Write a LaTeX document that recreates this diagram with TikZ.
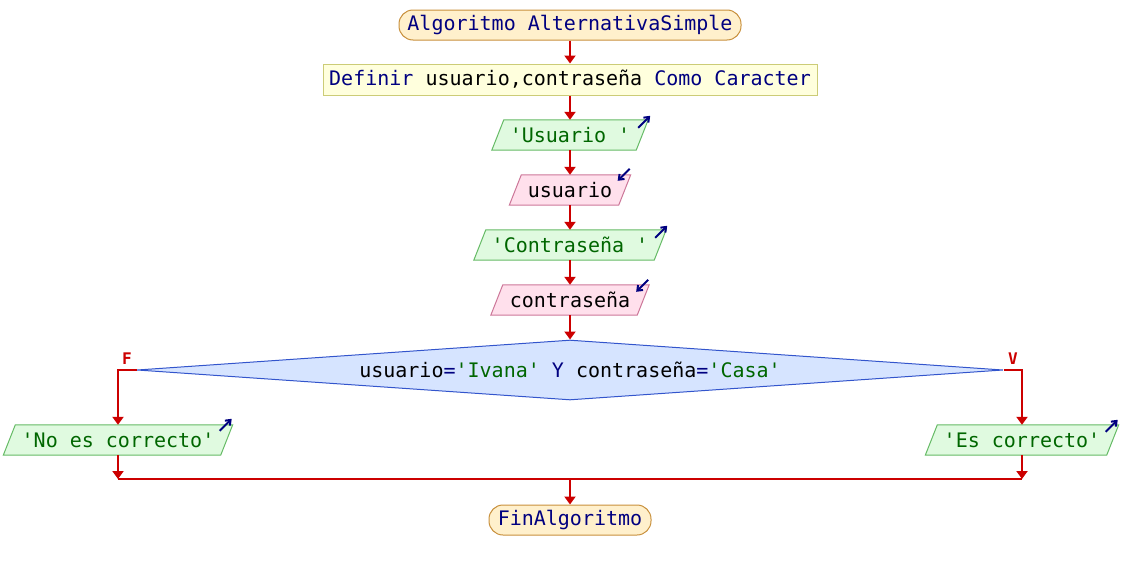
\documentclass[tikz,border=0pt]{standalone}
\usepackage{fontspec}
\setmonofont{DejaVu Sans Mono}
\usetikzlibrary{shapes.geometric,arrows.meta,calc,backgrounds}
\definecolor{flow}{HTML}{CC0000}
\definecolor{kw}{HTML}{000080}
\definecolor{str}{HTML}{006600}
\definecolor{termfill}{HTML}{FFF0CC}
\definecolor{termline}{HTML}{C8903C}
\definecolor{deffill}{HTML}{FFFFDD}
\definecolor{defline}{HTML}{CCCC77}
\definecolor{outfill}{HTML}{E0FAE0}
\definecolor{outline}{HTML}{66BB66}
\definecolor{infill}{HTML}{FFE0EC}
\definecolor{inline}{HTML}{CC7799}
\definecolor{condfill}{HTML}{D6E4FF}
\definecolor{condline}{HTML}{3355CC}
\newcommand{\pgram}[3]{%
  \begin{pgfonlayer}{background}
  \draw[#2,line width=1pt] ($(#1.south west)+(-#3,0)$) -- ($(#1.north west)+(#3,0)$) -- ($(#1.north east)+(#3,0)$) -- ($(#1.south east)+(-#3,0)$) -- cycle;
  \end{pgfonlayer}}
\begin{document}
\begin{tikzpicture}[x=1pt,y=-1pt,
  every node/.style={font=\ttfamily\fontsize{20}{24}\selectfont, inner sep=0pt},
  term/.style={draw=termline, fill=termfill, line width=1pt, rounded corners=14pt, minimum height=30pt},
  defbox/.style={draw=defline, fill=deffill, line width=1pt, minimum height=31pt},
  pbox/.style={minimum height=30pt},
  outp/.style={draw=outline, fill=outfill},
  inp/.style={draw=inline, fill=infill},
  cond/.style={shape=diamond, draw=condline, fill=condfill, line width=1pt, aspect=14.43, minimum width=866pt, minimum height=60pt},
  flowline/.style={draw=flow, line width=2pt, -{Triangle[length=8pt,width=11pt]}},
  plainflow/.style={draw=flow, line width=2pt},
  icon/.style={draw=kw, line width=2pt, -{Straight Barb[length=4.5pt,width=7pt]}},
  lab/.style={font=\ttfamily\bfseries\fontsize{16}{18}\selectfont, text=flow}
]
\useasboundingbox (0,0) rectangle (1122,570);

\node[term, minimum width=342pt] (start) at (570,25) {\textcolor{kw}{Algoritmo AlternativaSimple}};
\node[defbox, minimum width=494pt] (def) at (570,79.5) {\textcolor{kw}{Definir} usuario,contraseña \textcolor{kw}{Como Caracter}};

\node[pbox, minimum width=144pt] (o1) at (570,135) {\textcolor{str}{'Usuario '}};
\pgram{o1}{outp}{6}
\node[pbox, minimum width=109pt] (i1) at (570,190) {usuario};
\pgram{i1}{inp}{6}
\node[pbox, minimum width=180pt] (o2) at (570,245) {\textcolor{str}{'Contraseña '}};
\pgram{o2}{outp}{6}
\node[pbox, minimum width=146pt] (i2) at (570,300) {contraseña};
\pgram{i2}{inp}{6}

\node[cond] (c) at (570,370) {usuario\textcolor{kw}{=}\textcolor{str}{'Ivana'} \textcolor{kw}{Y} contraseña\textcolor{kw}{=}\textcolor{str}{'Casa'}};

\node[pbox, minimum width=217pt] (no) at (118,440) {\textcolor{str}{'No es correcto'}};
\pgram{no}{outp}{6}
\node[pbox, minimum width=181pt] (si) at (1022,440) {\textcolor{str}{'Es correcto'}};
\pgram{si}{outp}{6}

\node[term, minimum width=162pt] (fin) at (570,520) {\textcolor{kw}{FinAlgoritmo}};

\coordinate (jl) at (118,479);
\coordinate (jr) at (1022,479);
\coordinate (jc) at (570,479);

% flow
\draw[flowline] (start) -- (def);
\draw[flowline] (def) -- (o1);
\draw[flowline] (o1) -- (i1);
\draw[flowline] (i1) -- (o2);
\draw[flowline] (o2) -- (i2);
\draw[flowline] (i2) -- (c.north);
\draw[flowline] (c.west) -| (no.north);
\draw[flowline] (c.east) -| (si.north);
\draw[flowline] (no.south) -- (jl);
\draw[flowline] (si.south) -- (jr);
\draw[plainflow] (jl) -- (jr);
\draw[flowline] (jc) -- (fin.north);

\node[lab] (lf) at (127,359) {F};
\node[lab] (lv) at (1013,359) {V};

% icons
\draw[icon] ($(o1.north east)+(-4,8)$) -- ++(12,-12);
\draw[icon] ($(i1.north east)+(5,-6)$) -- ++(-12,12);
\draw[icon] ($(o2.north east)+(-5,8)$) -- ++(12,-12);
\draw[icon] ($(i2.north east)+(5,-5)$) -- ++(-12,12);
\draw[icon] ($(no.north east)+(-7,6)$) -- ++(12,-12);
\draw[icon] ($(si.north east)+(-7,7)$) -- ++(12,-12);
\end{tikzpicture}
\end{document}
